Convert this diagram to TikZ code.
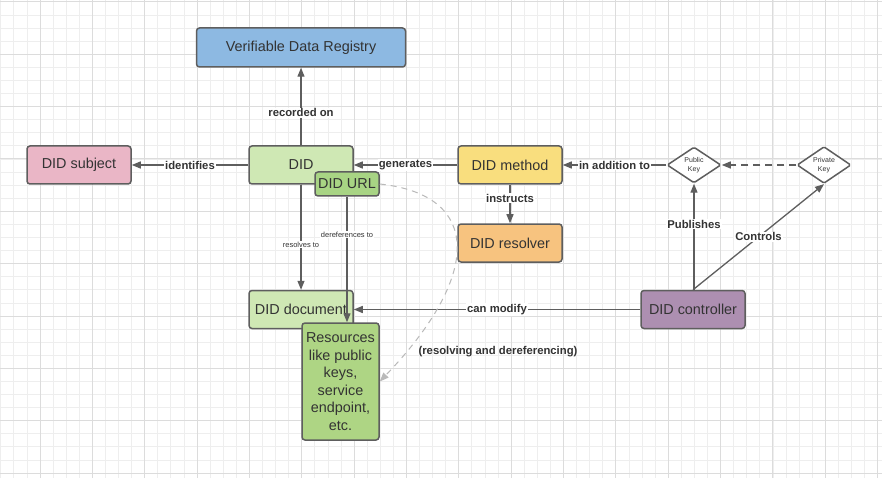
\documentclass[tikz,border=0pt]{standalone}
\usepackage{fontspec}
\setmainfont{Liberation Sans}
\usetikzlibrary{arrows.meta,shapes.geometric}
\definecolor{edge}{RGB}{94,94,94}
\definecolor{ink}{RGB}{51,51,51}
\definecolor{registry}{RGB}{141,185,226}
\definecolor{subject}{RGB}{234,182,198}
\definecolor{didgreen}{RGB}{207,232,180}
\definecolor{urlgreen}{RGB}{168,212,132}
\definecolor{resgreen}{RGB}{174,213,132}
\definecolor{method}{RGB}{249,222,126}
\definecolor{resolver}{RGB}{247,195,127}
\definecolor{controller}{RGB}{173,143,177}
\definecolor{gridminor}{RGB}{238,238,238}
\definecolor{gridmajor}{RGB}{220,220,220}

\begin{document}
\begin{tikzpicture}[x=1pt,y=-1pt,
  box/.style={draw=edge,line width=1.5pt,rounded corners=3pt,text=ink,
    font=\fontsize{14.4}{17.5}\selectfont,minimum width=104pt,minimum height=38pt,inner sep=2pt},
  key/.style={diamond,draw=edge,line width=1.5pt,rounded corners=1.5pt,fill=white,text=ink,
    font=\fontsize{7}{8.5}\selectfont,align=center,minimum width=54pt,minimum height=36pt,inner sep=0pt},
  link/.style={draw=edge,line width=1.3pt,-{Triangle[length=9pt,width=7pt]}},
  tag/.style={fill=white,text=ink,font=\bfseries\fontsize{11.3}{13}\selectfont,inner sep=1pt},
  small/.style={fill=white,text=ink,font=\fontsize{7.5}{9}\selectfont,inner sep=1pt}]
  \useasboundingbox (0,0) rectangle (882,478);
  % grid paper
  \fill[white] (0,0) rectangle (882,478);
  \foreach \i in {0,...,67}
    \draw[gridminor,line width=0.8pt] ({0.74+13.0875*\i},0) -- ++(0,478);
  \foreach \j in {0,...,36}
    \draw[gridminor,line width=0.8pt] (0,{1.9+13.0875*\j}) -- ++(882,0);
  \foreach \i in {0,...,16}
    \draw[gridmajor,line width=1pt] ({40+52.35*\i},0) -- ++(0,478);
  \foreach \j in {0,...,9}
    \draw[gridmajor,line width=1pt] (0,{1.9+52.35*\j}) -- ++(882,0);

  \node[box,fill=registry,minimum width=209pt,minimum height=39pt] (vdr) at (301,47.5) {Verifiable Data Registry};
  \node[box,fill=subject] (subject) at (79,165) {DID subject};
  \node[box,fill=didgreen] (did) at (301,165) {DID};
  \node[box,fill=urlgreen,minimum width=64pt,minimum height=24pt] (url) at (347,184) {DID URL};
  \node[box,fill=method] (method) at (510,165) {DID method};
  \node[box,fill=resolver] (resolver) at (510,243) {DID resolver};
  \node[key] (pub) at (694,165) {Public\\Key};
  \node[key] (priv) at (824,165) {Private\\Key};
  \node[box,fill=controller] (ctrl) at (693,309.5) {DID controller};
  \node[box,fill=didgreen] (doc) at (301,309.5) {DID document};

  \draw[link] (did) -- node[tag,pos=0.42]{recorded on} (vdr);
  \draw[link] (did) -- node[tag]{identifies} (subject);
  \draw[link] (method) -- node[tag]{generates} (did);
  \draw[link] (pub) -- node[tag]{in addition to} (method);
  \draw[link,dash pattern=on 7pt off 5pt] (priv) -- (pub);
  \draw[link] (method) -- node[tag,pos=0.35]{instructs} (resolver);
  \draw[link] (pub.south |- ctrl.north) -- node[tag,pos=0.62]{Publishes} (pub.south);
  \draw[link] (ctrl.north) -- node[tag]{Controls} (priv.south);
  \draw[link] (ctrl) -- node[tag]{can modify} (doc);
  \draw[link] (did) -- node[small,pos=0.57]{resolves to} (doc);

  \node[box,fill=resgreen,minimum width=77pt,minimum height=117pt,align=center] (res) at (340.5,381.5)
    {Resources\\like public\\keys,\\service\\endpoint,\\etc.};
  \draw[link] (url) -- node[small,pos=0.3]{dereferences to} (url |- res.north);
  \draw[link,draw=gray!55,line width=1pt,dash pattern=on 6pt off 5pt] (url.east)
    .. controls (482,195) and (482,275) .. (res.east);
  \node[tag,fill=none] (note) at (498,352) {(resolving and dereferencing)};
\end{tikzpicture}
\end{document}
